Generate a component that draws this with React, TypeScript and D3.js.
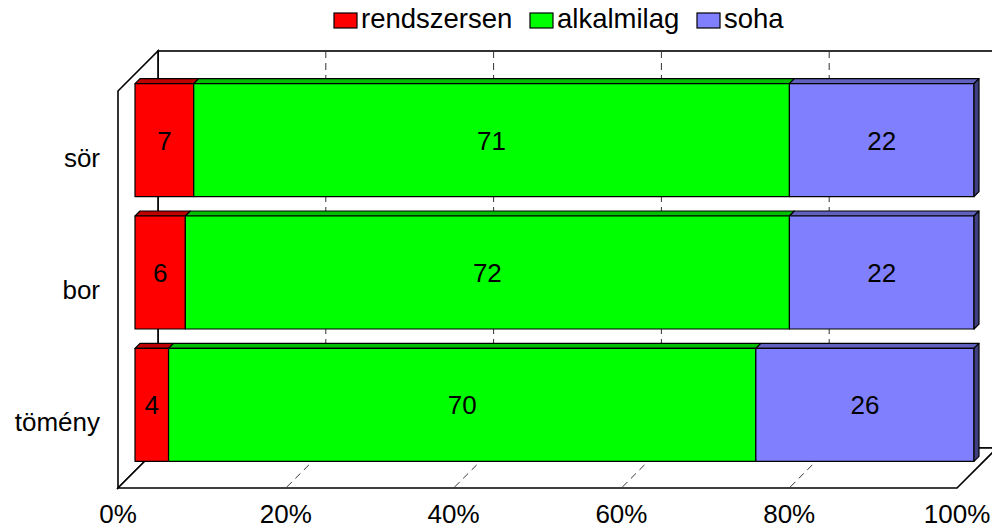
import React from "react";
import * as d3 from "d3";

const categories = ["sör", "bor", "tömény"];
const seriesNames = ["rendszersen", "alkalmilag", "soha"];
const rendszersen = [7, 6, 4];
const alkalmilag = [71, 72, 70];
const soha = [22, 22, 26];
const tickValues = [0, 20, 40, 60, 80, 100];

const FRONT = ["#FF0000", "#00FF00", "#8080FF"];
const TOP = ["#BF0000", "#00BF00", "#6060BF"];
const SIDE = ["#800000", "#008000", "#404080"];

const W = 992;
const H = 530;
const FONT = "'Liberation Sans', Arial, sans-serif";

export default function App() {
  const x0 = 118, x1 = 957;
  const yTop = 91, yBot = 488;
  const depth = 40;
  const barOff = 17;
  const barDepth = 5;

  const x = d3.scaleLinear().domain([0, 100]).range([x0, x1]);
  const y = d3
    .scaleBand<string>()
    .domain(categories)
    .range([yTop, yBot])
    .paddingInner(0.146)
    .paddingOuter(0.073);

  const series = [rendszersen, alkalmilag, soha];
  const rows = categories.map((c, i) => {
    let acc = 0;
    return {
      cat: c,
      segs: series.map((s, k) => {
        const start = acc;
        acc += s[i];
        return { k, start, end: acc, value: s[i] };
      }),
    };
  });

  const pts = (arr: [number, number][]) => arr.map((p) => p.join(",")).join(" ");
  const bw = y.bandwidth();
  const legendX = [334, 530, 697];

  return (
    <svg
      width={W}
      height={H}
      style={{ position: "absolute", left: 0, top: 0, background: "#fff" }}
      fontFamily={FONT}
    >
      {/* walls */}
      <g stroke="#000" strokeWidth={1.6} fill="#fff">
        <rect x={x0 + depth} y={yTop - depth} width={x1 - x0} height={yBot - yTop} />
        <polygon
          points={pts([
            [x0, yTop],
            [x0 + depth, yTop - depth],
            [x0 + depth, yBot - depth],
            [x0, yBot],
          ])}
        />
        <polygon
          points={pts([
            [x0, yBot],
            [x0 + depth, yBot - depth],
            [x1 + depth, yBot - depth],
            [x1, yBot],
          ])}
        />
      </g>
      {/* gridlines */}
      <g stroke="#333" strokeWidth={1} strokeDasharray="7,5">
        {tickValues.slice(1, -1).map((t) => (
          <g key={t}>
            <line x1={x(t) + depth} x2={x(t) + depth} y1={yTop - depth} y2={yBot - depth} />
            <line x1={x(t) + depth} x2={x(t)} y1={yBot - depth} y2={yBot} />
          </g>
        ))}
      </g>
      {/* bars */}
      {rows.map((r) => {
        const yb = y(r.cat)! - barOff;
        const ye = yb + bw;
        const last = r.segs[r.segs.length - 1];
        return (
          <g key={r.cat} stroke="#000" strokeWidth={1.2} strokeLinejoin="round">
            {r.segs.map((s) => {
              const xa = x(s.start) + barOff;
              const xb = x(s.end) + barOff;
              return (
                <g key={s.k}>
                  <polygon
                    fill={TOP[s.k]}
                    points={pts([
                      [xa, yb],
                      [xa + barDepth, yb - barDepth],
                      [xb + barDepth, yb - barDepth],
                      [xb, yb],
                    ])}
                  />
                  <rect x={xa} y={yb} width={xb - xa} height={bw} fill={FRONT[s.k]} />
                </g>
              );
            })}
            <polygon
              fill={SIDE[last.k]}
              points={pts([
                [x(last.end) + barOff, yb],
                [x(last.end) + barOff + barDepth, yb - barDepth],
                [x(last.end) + barOff + barDepth, ye - barDepth],
                [x(last.end) + barOff, ye],
              ])}
            />
            {r.segs.map((s) => (
              <text
                key={"t" + s.k}
                x={(x(s.start) + x(s.end)) / 2 + barOff}
                y={yb + bw / 2}
                dy="0.36em"
                textAnchor="middle"
                fontSize={26}
                fill="#000"
                stroke="none"
              >
                {s.value}
              </text>
            ))}
          </g>
        );
      })}
      {/* category labels */}
      {categories.map((c) => (
        <text
          key={c}
          x={100}
          y={y(c)! + bw / 2}
          dy="0.36em"
          textAnchor="end"
          fontSize={26}
          fill="#000"
        >
          {c}
        </text>
      ))}
      {/* tick labels */}
      {tickValues.map((t) => (
        <text key={t} x={x(t)} y={523} textAnchor="middle" fontSize={26} fill="#000">
          {t}%
        </text>
      ))}
      {/* legend */}
      {seriesNames.map((n, k) => (
        <g key={n}>
          <rect
            x={legendX[k]}
            y={13}
            width={23}
            height={15}
            fill={FRONT[k]}
            stroke="#000"
            strokeWidth={1.2}
          />
          <text x={legendX[k] + 27} y={27.5} fontSize={27.5} fill="#000">
            {n}
          </text>
        </g>
      ))}
    </svg>
  );
}
